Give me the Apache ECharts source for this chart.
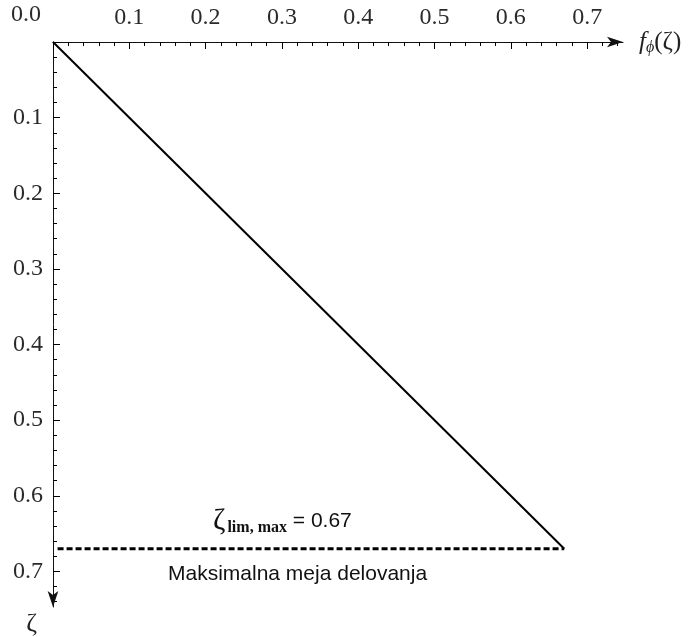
<!DOCTYPE html>
<html><head><meta charset="utf-8">
<script src="https://cdn.jsdelivr.net/npm/echarts@6/dist/echarts.min.js"></script>
<style>html,body{margin:0;padding:0;background:#fff}#c{width:700px;height:637px}</style>
</head><body><div id="c"></div>
<script>
const xTicks = [0, 0.1, 0.2, 0.3, 0.4, 0.5, 0.6, 0.7];
const yTicks = [0, 0.1, 0.2, 0.3, 0.4, 0.5, 0.6, 0.7];
const curveX = [0, 0.67];
const curveY = [0, 0.67];
const zetaLim = 0.67;
const limLineX = [0.006, 0.67];

const chart = echarts.init(document.getElementById('c'));
const serif = 'Liberation Serif';
const sans = 'Liberation Sans';
const lbl = v => (v === 0 ? '' : v.toFixed(1));
chart.setOption({
  animation: false,
  grid: {left: 53, top: 42, width: 570, height: 572, containLabel: false},
  xAxis: {
    type: 'value', position: 'top', min: 0, max: 0.747, interval: 0.1,
    axisLine: {show: true, onZero: false, lineStyle: {color: '#111', width: 1}, symbol: ['none', 'arrow'], symbolSize: [8, 16]},
    axisTick: {show: true, inside: true, length: 7, customValues: xTicks, lineStyle: {color: '#000', width: 1}},
    minorTick: {show: true, splitNumber: 5, length: 4, lineStyle: {color: '#000', width: 1}},
    splitLine: {show: false},
    axisLabel: {showMaxLabel: false, showMinLabel: false, formatter: lbl, fontFamily: serif, fontSize: 24, color: '#2a2a2a', margin: 12},
    name: '{f|f}{s|ϕ}{p|(ζ)}', nameLocation: 'end', nameGap: 16,
    nameTextStyle: {rich: {
      f: {fontFamily: serif, fontStyle: 'italic', fontSize: 25, color: '#222'},
      s: {fontFamily: serif, fontStyle: 'italic', fontSize: 16, color: '#222', verticalAlign: 'bottom', padding: [12, 0, 0, 0]},
      p: {fontFamily: serif, fontSize: 25, color: '#222'}
    }}
  },
  yAxis: {
    type: 'value', inverse: true, min: 0, max: 0.747, interval: 0.1,
    axisLine: {show: true, onZero: false, lineStyle: {color: '#111', width: 1}, symbol: ['arrow', 'none'], symbolSize: [8, 16]},
    axisTick: {show: true, inside: true, length: 7, customValues: yTicks, lineStyle: {color: '#000', width: 1}},
    minorTick: {show: true, splitNumber: 5, length: 4, lineStyle: {color: '#000', width: 1}},
    splitLine: {show: false},
    axisLabel: {showMaxLabel: false, showMinLabel: false, formatter: lbl, fontFamily: serif, fontSize: 24, color: '#2a2a2a', margin: 10},
    name: 'ζ', nameLocation: 'end', nameGap: 4,
    nameTextStyle: {fontFamily: serif, fontSize: 26, color: '#222', align: 'right', verticalAlign: 'top', padding: [0, 16, 0, 0]}
  },
  series: [
    {type: 'line', data: curveX.map((x, i) => [x, curveY[i]]), showSymbol: false, symbol: 'none',
     lineStyle: {color: '#000', width: 2}},
    {type: 'line', data: limLineX.map(x => [x, zetaLim]), showSymbol: false, symbol: 'none',
     lineStyle: {color: '#000', width: 3, type: [6, 3]}}
  ],
  graphic: [
    {type: 'text', left: 11, top: 3, style: {text: '0.0', fontFamily: serif, fontSize: 24, fill: '#2a2a2a'}},
    {type: 'text', left: 213, top: 506, style: {
      text: '{z|ζ}{s|lim, max}{t| = 0.67}',
      rich: {
        z: {fontFamily: serif, fontSize: 30, fill: '#111'},
        s: {fontFamily: serif, fontSize: 16, fontWeight: 'bold', fill: '#111', verticalAlign: 'bottom', padding: [14, 0, 0, 2]},
        t: {fontFamily: sans, fontSize: 21, fill: '#111'}
      }}},
    {type: 'text', left: 168, top: 564, style: {text: 'Maksimalna meja delovanja', fontFamily: sans, fontSize: 21, fill: '#111'}}
  ]
});
</script></body></html>
